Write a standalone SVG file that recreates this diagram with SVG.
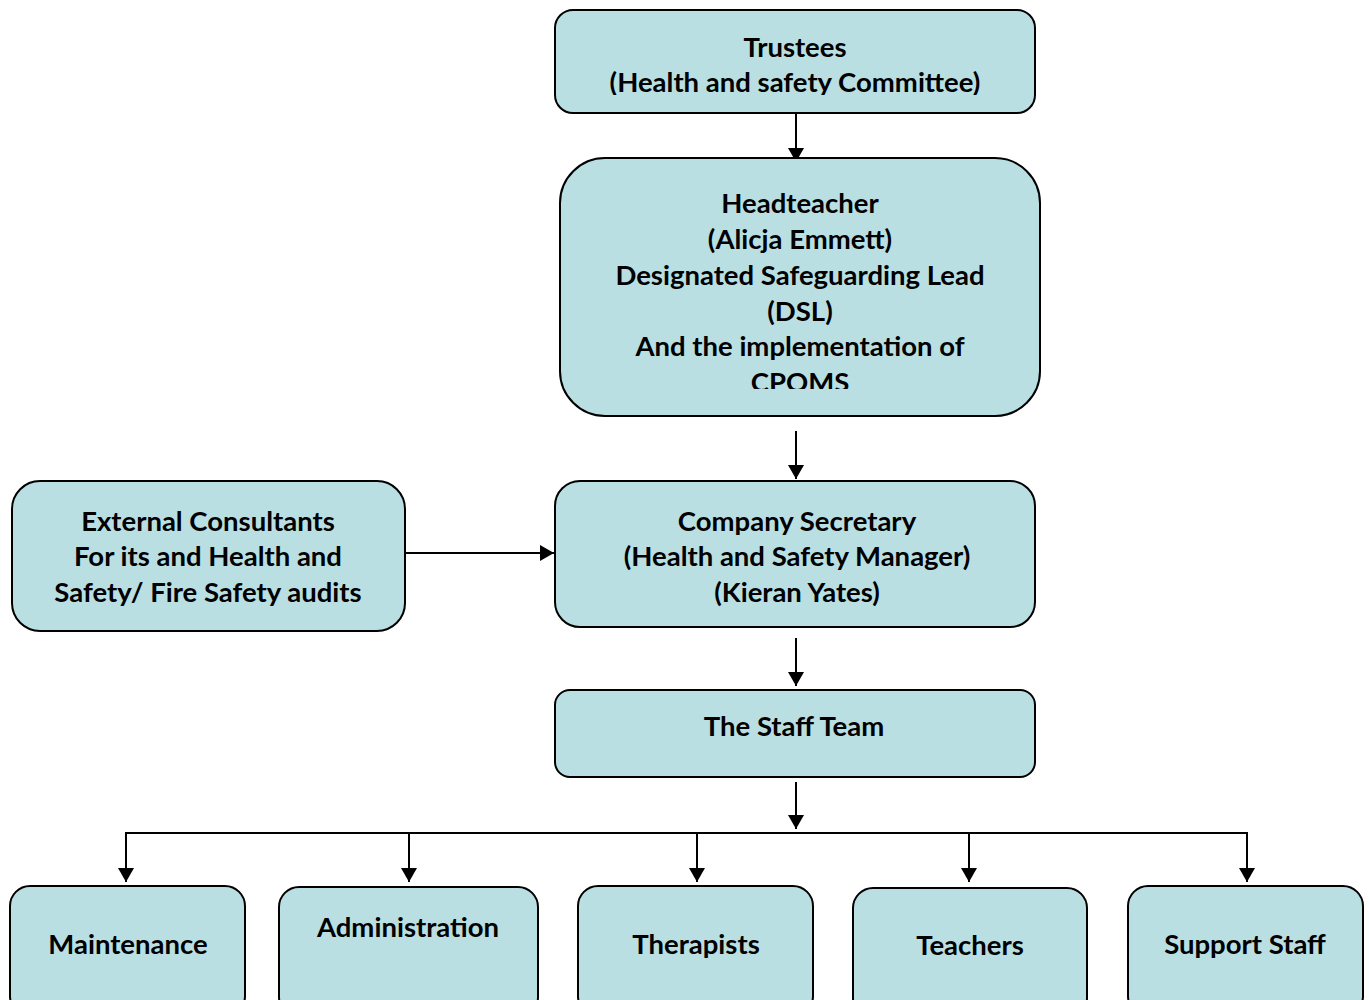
<svg xmlns="http://www.w3.org/2000/svg" width="1370" height="1000" viewBox="0 0 1370 1000">
<style>
.box{fill:#b9dfe3;stroke:#000;stroke-width:2}
.t{font-family:Lato,"Liberation Sans",sans-serif;font-weight:bold;font-size:27.5px;fill:#000;text-anchor:middle}
.c{fill:none;stroke:#000;stroke-width:2}
</style>
<defs>
<marker id="ah" markerWidth="14" markerHeight="16" refX="14" refY="8" orient="auto" markerUnits="userSpaceOnUse">
<path d="M0,0 L14,8 L0,16 Z" fill="#000"/>
</marker>
<clipPath id="clipTop"><rect x="555" y="10" width="480" height="85"/></clipPath>
<clipPath id="clipHead"><rect x="560" y="158" width="480" height="231"/></clipPath>
</defs>
<rect width="1370" height="1000" fill="#fff"/>
<g id="connectors">
<line class="c" x1="796" y1="114" x2="796" y2="162" marker-end="url(#ah)"/>
<line class="c" x1="796" y1="431" x2="796" y2="479" marker-end="url(#ah)"/>
<line class="c" x1="406" y1="553" x2="554" y2="553" marker-end="url(#ah)"/>
<line class="c" x1="796" y1="638" x2="796" y2="686" marker-end="url(#ah)"/>
<line class="c" x1="796" y1="782" x2="796" y2="829" marker-end="url(#ah)"/>
<polyline class="c" points="126,882 126,833 1247,833 1247,882" marker-end="url(#ah)"/>
<line class="c" x1="126" y1="833" x2="126" y2="882" marker-end="url(#ah)"/>
<line class="c" x1="409" y1="833" x2="409" y2="882" marker-end="url(#ah)"/>
<line class="c" x1="697" y1="833" x2="697" y2="882" marker-end="url(#ah)"/>
<line class="c" x1="969" y1="833" x2="969" y2="882" marker-end="url(#ah)"/>
</g>
<g id="trustees">
<rect class="box" x="555" y="10" width="480" height="103" rx="18"/>
<g clip-path="url(#clipTop)">
<text class="t" x="795" y="57">Trustees</text>
<text class="t" x="795" y="92">(Health and safety Committee)</text>
</g>
</g>
<g id="headteacher">
<rect class="box" x="560" y="158" width="480" height="258" rx="45"/>
<g clip-path="url(#clipHead)">
<text class="t" x="800" y="213">Headteacher</text>
<text class="t" x="800" y="249">(Alicja Emmett)</text>
<text class="t" x="800" y="285">Designated Safeguarding Lead</text>
<text class="t" x="800" y="321">(DSL)</text>
<text class="t" x="800" y="356">And the implementation of</text>
<text class="t" x="800" y="392">CPOMS</text>
</g>
</g>
<g id="external">
<rect class="box" x="12" y="481" width="393" height="150" rx="28"/>
<text class="t" x="208" y="531">External Consultants</text>
<text class="t" x="208" y="566">For its and Health and</text>
<text class="t" x="208" y="602">Safety/ Fire Safety audits</text>
</g>
<g id="company-secretary">
<rect class="box" x="555" y="481" width="480" height="146" rx="25"/>
<text class="t" x="797" y="531">Company Secretary</text>
<text class="t" x="797" y="566">(Health and Safety Manager)</text>
<text class="t" x="797" y="602">(Kieran Yates)</text>
</g>
<g id="staff-team">
<rect class="box" x="555" y="690" width="480" height="87" rx="15"/>
<text class="t" x="794" y="736">The Staff Team</text>
</g>
<g id="maintenance">
<rect class="box" x="10" y="886" width="235" height="130" rx="20"/>
<text class="t" x="128" y="954">Maintenance</text>
</g>
<g id="administration">
<rect class="box" x="279" y="887" width="259" height="130" rx="20"/>
<text class="t" x="408" y="937">Administration</text>
</g>
<g id="therapists">
<rect class="box" x="578" y="886" width="235" height="130" rx="20"/>
<text class="t" x="696" y="954">Therapists</text>
</g>
<g id="teachers">
<rect class="box" x="853" y="888" width="234" height="130" rx="20"/>
<text class="t" x="970" y="955">Teachers</text>
</g>
<g id="support-staff">
<rect class="box" x="1128" y="886" width="235" height="130" rx="20"/>
<text class="t" x="1245" y="954">Support Staff</text>
</g>
</svg>
